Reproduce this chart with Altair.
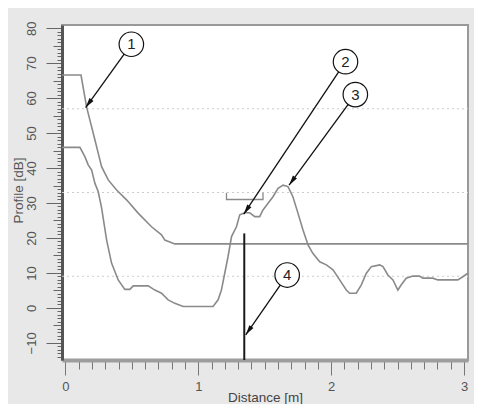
import math
import altair as alt
import pandas as pd

# ---------------- data ----------------
tvt_x = [-0.026, 0.117, 0.159, 0.184, 0.222, 0.247, 0.272, 0.322, 0.385, 0.46,
         0.547, 0.648, 0.723, 0.748, 0.823, 3.03]
tvt_db = [66.6, 66.6, 57.5, 53.7, 48.0, 44.2, 40.4, 36.6, 33.7, 30.9,
          27.1, 23.2, 20.9, 19.4, 18.3, 18.3]

echo_x = [-0.026, 0.109, 0.147, 0.171, 0.197, 0.222, 0.247, 0.272, 0.31, 0.347,
          0.397, 0.447, 0.485, 0.51, 0.623, 0.673, 0.723, 0.773, 0.823, 0.886,
          1.111, 1.149, 1.174, 1.199, 1.224, 1.25, 1.287, 1.312, 1.35, 1.387,
          1.425, 1.462, 1.487, 1.525, 1.562, 1.6, 1.638, 1.675, 1.712, 1.75,
          1.788, 1.826, 1.862, 1.914, 1.964, 2.014, 2.064, 2.114, 2.139, 2.189,
          2.227, 2.265, 2.302, 2.365, 2.39, 2.427, 2.465, 2.502, 2.528, 2.565,
          2.615, 2.665, 2.69, 2.765, 2.803, 2.953, 2.991, 3.029]
echo_db = [45.9, 45.9, 43.2, 40.9, 39.4, 35.6, 33.2, 28.6, 19.4, 12.8,
           8.0, 5.3, 5.3, 6.3, 6.3, 5.1, 4.2, 2.3, 1.3, 0.4,
           0.4, 2.3, 5.1, 9.9, 14.7, 20.4, 23.2, 26.6, 27.2, 27.2,
           26.1, 26.1, 28.0, 29.9, 31.8, 34.2, 35.1, 34.7, 31.8, 27.1,
           22.3, 18.0, 15.6, 13.2, 12.3, 10.9, 8.0, 5.1, 4.2, 4.2,
           6.6, 9.9, 11.8, 12.3, 11.8, 9.4, 8.0, 5.1, 6.6, 8.5,
           9.1, 9.1, 8.5, 8.5, 8.0, 8.0, 8.9, 9.9]

marker_x = [1.346]
marker_top = [21.3]

bracket_x = [1.212, 1.212, 1.487, 1.487]
bracket_db = [32.9, 31.0, 31.0, 32.9]

callout_label = ["1", "2", "3", "4"]
callout_x = [0.496, 2.108, 2.182, 1.669]
callout_db = [75.4, 70.4, 61.0, 9.4]
tip_x = [0.152, 1.342, 1.683, 1.357]
tip_db = [57.3, 26.8, 35.1, -7.7]

x_minor_step = 0.1

X_DOMAIN = [-0.026, 3.03]
Y_DOMAIN = [-14.9, 80.9]
W, H = 406, 335
FONT = "Liberation Sans"

# ---------------- derived tables ----------------
px_x = W / (X_DOMAIN[1] - X_DOMAIN[0])
px_y = H / (Y_DOMAIN[1] - Y_DOMAIN[0])

tvt = pd.DataFrame({"x": tvt_x, "db": tvt_db, "i": range(len(tvt_x))})
echo = pd.DataFrame({"x": echo_x, "db": echo_db, "i": range(len(echo_x))})
bracket = pd.DataFrame({"x": bracket_x, "db": bracket_db, "i": range(len(bracket_x))})
marker = pd.DataFrame({"x": marker_x, "top": marker_top, "bottom": [Y_DOMAIN[0]]})

angles = []
for cx, cy, tx, ty in zip(callout_x, callout_db, tip_x, tip_db):
    dx = (tx - cx) * px_x
    dy = -(ty - cy) * px_y
    angles.append(math.degrees(math.atan2(dx, -dy)) % 360)
callouts = pd.DataFrame({"label": callout_label, "cx": callout_x, "cy": callout_db,
                         "tx": tip_x, "ty": tip_db, "angle": angles})

q = (Y_DOMAIN[1] - Y_DOMAIN[0]) / 4
grid = pd.DataFrame({"g": [Y_DOMAIN[0] + q * k for k in (1, 2, 3)],
                     "x": [X_DOMAIN[0]] * 3, "x2": [X_DOMAIN[1]] * 3})

xs = alt.Scale(domain=X_DOMAIN, nice=False, zero=False)
ys = alt.Scale(domain=Y_DOMAIN, nice=False, zero=False)

x_vals = [round(i * x_minor_step, 1) for i in range(0, 31)]
y_vals = list(range(-14, 81))

x_axis = alt.Axis(
    title="Distance [m]", values=x_vals, grid=False,
    labelExpr="abs(datum.value - round(datum.value)) < 0.001 ? format(datum.value, 'd') : ''",
    tickSize={"condition": {"test": "abs(datum.value - round(datum.value)) < 0.001", "value": 15}, "value": 9},
    tickColor="#777", tickWidth=1,
    domainColor="#9d9d9d", domainWidth=4,
    labelFont=FONT, labelFontSize=13, labelColor="#555", labelPadding=5,
    titleFont=FONT, titleFontSize=13.5, titleFontWeight="normal", titleColor="#444",
    titleY=37, titleBaseline="middle",
)
y_axis = alt.Axis(
    title="Profile [dB]", values=y_vals, grid=False,
    labelExpr="datum.value % 10 === 0 ? datum.label : ''",
    tickSize={"condition": [{"test": "datum.value % 10 === 0", "value": 16},
                            {"test": "datum.value % 5 === 0", "value": 9}], "value": 5},
    tickColor="#666", tickWidth=1,
    domainColor="#555", domainWidth=3,
    labelAngle=270, labelAlign="center", labelBaseline="bottom",
    labelFont=FONT, labelFontSize=13, labelColor="#555", labelPadding=8,
    titleFont=FONT, titleFontSize=13.5, titleFontWeight="normal", titleColor="#555",
    titleAngle=270, titleAlign="center", titleBaseline="middle",
    titleX=-44, titleY=165,
)

def X(f):
    return alt.X(f, type="quantitative", scale=xs, axis=x_axis)

def Y(f):
    return alt.Y(f, type="quantitative", scale=ys, axis=y_axis)

grid_layer = alt.Chart(grid).mark_rule(color="#cccccc", strokeDash=[2, 3], strokeWidth=1).encode(
    x=X("x"), x2="x2:Q", y=Y("g"))

tvt_layer = alt.Chart(tvt).mark_line(color="#8a8a8a", strokeWidth=1.6).encode(
    x=X("x"), y=Y("db"), order="i:Q")

echo_layer = alt.Chart(echo).mark_line(color="#8a8a8a", strokeWidth=1.6).encode(
    x=X("x"), y=Y("db"), order="i:Q")

bracket_layer = alt.Chart(bracket).mark_line(color="#8a8a8a", strokeWidth=1.3).encode(
    x=X("x"), y=Y("db"), order="i:Q")

marker_layer = alt.Chart(marker).mark_rule(color="#1a1a1a", strokeWidth=2).encode(
    x=X("x"), y=Y("top"), y2="bottom:Q")

arrow_layer = alt.Chart(callouts).mark_rule(color="#111", strokeWidth=1.3).encode(
    x=X("cx"), y=Y("cy"), x2="tx:Q", y2="ty:Q")

head_layer = alt.Chart(callouts).mark_point(
    shape="M0,0L-0.25,1L0.25,1Z", filled=True, color="#111", size=400, opacity=1
).encode(x=X("tx"), y=Y("ty"), angle=alt.Angle("angle:Q", scale=None))

circle_layer = alt.Chart(callouts).mark_point(
    shape="circle", filled=True, fill="white", stroke="#111", strokeWidth=1.2,
    size=600, opacity=1, fillOpacity=1
).encode(x=X("cx"), y=Y("cy"))

text_layer = alt.Chart(callouts).mark_text(
    font=FONT, fontSize=15, color="#222", baseline="middle", align="center"
).encode(x=X("cx"), y=Y("cy"), text="label:N")

chart = alt.layer(
    grid_layer, tvt_layer, echo_layer, bracket_layer, marker_layer,
    arrow_layer, head_layer, circle_layer, text_layer
).properties(
    width=W, height=H,
    autosize=alt.AutoSizeParams(type="none"),
    padding={"left": 54, "top": 17, "right": 6, "bottom": 44},
    background="#e8e8e8",
).configure_view(
    fill="white", stroke="#999", strokeWidth=2
)

chart.save("out.html", embed_options={"renderer": "svg", "actions": False})
